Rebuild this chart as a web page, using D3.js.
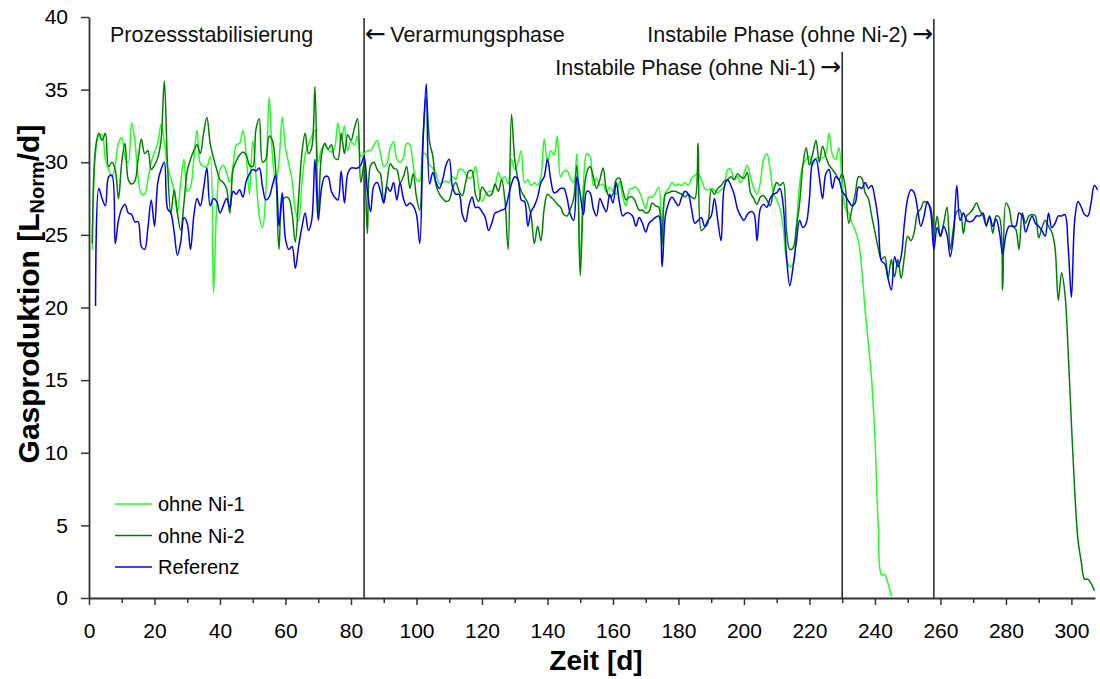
<!DOCTYPE html>
<html><head><meta charset="utf-8">
<script src="https://cdn.jsdelivr.net/npm/d3@7"></script>
<style>
html,body{margin:0;padding:0;background:#fff;}
svg{display:block;font-family:"Liberation Sans",Arial,sans-serif;}
</style></head>
<body><svg id="chart" width="1100" height="679"></svg>
<script>
// ---- data (daily values) ----
const ni1Start = 1;   // first day of "ohne Ni-1"
const ohneNi1 = [
24.0,30.6,31.8,31.9,30.2,29.5,29.0,29.8,31.3,31.7,
30.4,30.0,32.7,31.5,29.0,27.8,27.8,28.8,30.0,30.7,
31.3,32.6,31.4,29.6,28.9,28.0,26.5,28.6,30.2,28.0,
28.3,30.2,32.2,29.9,29.7,29.7,30.4,21.0,27.0,29.5,
29.8,29.3,28.6,29.8,31.2,31.3,32.2,30.5,27.8,31.5,
29.0,26.3,25.5,28.0,34.5,30.5,28.5,30.0,33.1,31.0,
29.9,28.8,26.7,26.0,28.5,30.5,31.2,31.8,32.2,30.0,
30.9,31.2,30.9,30.7,31.0,32.7,31.5,32.5,30.8,31.4,
31.2,31.8,30.4,30.6,30.8,30.8,31.2,31.5,30.6,29.7,
29.9,31.0,31.4,30.2,30.0,30.3,31.3,31.2,29.8,28.8,
28.7,30.6,30.5,29.8,29.6,29.2,28.5,28.6,28.7,28.6,
29.0,28.8,29.5,29.5,29.2,28.9,29.0,29.7,28.3,27.3,
27.7,28.0,28.0,28.4,29.3,28.8,29.0,28.5,30.2,29.5,
30.0,30.8,28.6,28.8,28.4,28.6,28.4,29.0,31.6,30.0,
30.8,30.5,31.8,29.0,29.4,29.4,28.9,28.6,30.6,23.0,
28.6,30.6,30.4,28.4,28.9,28.4,28.5,27.9,28.3,28.0,
27.8,28.7,27.6,27.0,28.1,28.2,28.3,28.0,27.4,26.8,
27.6,27.6,27.9,28.3,24.2,27.9,28.2,28.6,28.4,28.5,
28.4,28.6,28.4,28.9,29.1,29.2,28.8,28.2,28.1,28.2,
28.1,27.9,28.1,28.3,29.5,29.5,28.8,29.0,28.6,29.2,
29.8,29.0,28.2,27.8,28.6,30.2,30.6,29.5,27.9,27.4,
26.8,25.5,23.3,22.8,23.0,25.5,28.5,29.8,30.2,30.4,
29.8,30.3,30.3,30.3,30.6,32.0,30.5,30.2,31.0,28.5,
26.8,26.5,25.8,25.3,24.5,22.6,19.8,17.5,15.0,11.0,
5.0,1.6,1.6,1.0,0.1
];
const ni2Start = 1;   // first day of "ohne Ni-2"
const ohneNi2 = [
24.4,31.0,32.0,31.5,32.0,29.7,30.0,29.5,27.5,30.0,
31.3,28.8,28.5,28.7,30.2,31.6,30.6,30.8,29.5,29.8,
30.3,31.5,35.6,29.7,26.5,28.1,26.5,25.3,27.2,29.4,
30.2,30.8,31.2,30.6,32.0,33.1,31.3,30.3,29.5,28.8,
28.6,28.2,26.5,29.5,30.1,30.5,30.7,30.5,29.8,29.7,
32.3,33.0,30.0,30.2,31.8,31.5,29.5,24.0,27.3,27.6,
27.5,26.5,24.5,27.5,30.6,32.0,30.6,31.0,35.2,26.5,
30.5,31.3,30.9,31.2,30.3,30.2,32.0,30.6,31.9,31.5,
32.3,33.0,28.6,29.9,25.1,29.8,30.0,29.5,29.2,27.2,
28.6,29.9,29.6,29.5,28.6,29.0,29.7,28.2,29.2,27.6,
26.7,31.8,34.5,31.4,30.4,28.4,27.8,27.5,27.3,27.4,
28.2,28.6,28.0,27.7,28.6,29.4,29.4,27.8,27.3,28.3,
28.0,27.7,27.8,28.5,28.0,28.8,27.4,24.0,33.3,30.2,
28.8,28.0,27.6,27.2,26.3,24.4,25.6,24.6,26.8,27.8,
27.6,27.4,27.1,26.9,26.4,26.3,26.8,27.5,29.8,22.2,
27.5,29.3,29.7,29.0,28.2,28.8,29.6,28.1,27.6,27.8,
28.8,28.9,28.1,27.4,27.6,27.6,27.2,26.7,26.7,26.5,
26.6,27.2,27.0,26.9,24.4,27.8,27.9,28.0,28.0,27.9,
27.8,27.6,27.8,27.6,27.5,31.3,25.3,25.5,25.8,28.1,
27.8,28.2,28.4,28.7,28.8,29.0,28.8,29.2,29.0,28.9,
29.3,27.9,27.5,27.1,27.6,27.7,27.4,27.0,28.0,28.6,
28.4,28.6,25.3,24.0,24.1,25.5,27.2,29.8,31.0,29.8,
30.6,31.5,30.0,31.1,30.4,29.8,29.5,29.2,28.8,29.2,
28.2,25.8,26.8,27.8,29.0,28.9,27.9,27.5,26.3,25.2,
24.1,23.3,23.5,22.0,23.3,22.1,23.3,22.0,23.5,24.9,
24.6,25.2,26.5,26.8,27.3,27.2,26.9,24.9,26.3,24.9,
25.8,26.9,24.0,25.5,26.6,26.7,25.1,26.3,26.5,26.8,
27.2,26.7,26.3,25.7,26.2,25.1,26.3,26.2,21.2,27.2,
26.8,25.6,25.4,24.0,26.5,25.8,26.3,26.4,26.3,24.8,
25.5,26.0,25.6,25.2,24.1,20.5,22.4,21.0,17.0,12.0,
7.4,4.0,2.5,1.3,1.3,1.0,0.5
];
const refStart = 2;   // first day of "Referenz"
const referenz = [
20.1,28.2,27.5,27.0,29.0,29.1,24.4,26.0,26.8,
27.1,26.5,26.4,25.9,25.9,24.2,24.0,25.5,27.4,25.6,
28.6,29.5,30.0,26.8,26.5,25.2,23.6,24.5,26.2,25.8,
24.0,26.3,27.5,27.0,28.2,29.6,27.0,27.5,27.3,26.5,
27.0,27.5,26.9,28.0,27.8,28.1,27.6,28.7,29.2,29.5,
29.4,29.6,28.3,27.4,27.6,28.4,29.1,25.6,27.9,24.7,
24.0,24.2,22.7,24.2,25.5,26.5,25.3,26.0,30.2,26.0,
28.2,29.0,29.0,28.0,27.6,27.4,29.4,27.2,29.2,29.6,
29.6,29.6,29.8,30.4,28.1,26.6,28.4,28.6,28.0,27.2,
28.3,28.0,28.6,27.4,28.6,27.5,27.0,27.2,27.0,26.4,
24.4,31.3,35.4,28.5,29.3,28.6,28.2,28.8,29.8,30.2,
28.3,27.8,27.8,26.4,25.9,27.0,27.6,26.9,26.9,26.6,
26.2,25.3,25.8,26.5,26.6,26.7,26.8,27.6,28.5,29.0,
28.8,27.4,27.3,25.6,26.6,27.0,27.6,28.6,29.0,30.2,
28.8,27.9,28.0,28.2,28.2,27.5,26.4,26.0,29.0,27.8,
26.4,28.0,27.9,26.8,26.3,27.5,27.0,26.6,27.8,27.2,
28.6,27.2,26.3,26.5,26.5,26.3,25.6,26.2,25.8,25.2,
25.8,26.0,26.2,26.3,22.8,26.3,27.2,27.6,27.3,27.0,
27.6,28.0,27.8,26.8,25.8,26.0,26.2,25.6,26.0,26.3,
27.5,26.0,24.6,28.3,28.8,28.4,27.8,26.8,26.3,26.0,
26.4,26.6,26.5,24.6,26.8,27.1,26.9,27.5,27.8,27.9,
28.2,27.0,23.5,21.5,22.8,24.5,26.0,25.5,25.8,27.5,
30.0,30.2,29.0,27.5,29.2,29.5,28.2,29.0,28.8,28.0,
27.7,27.3,27.0,27.2,28.3,28.2,28.6,28.2,28.4,27.5,
26.0,23.2,23.0,22.0,21.2,23.5,22.8,23.5,25.8,27.5,
28.1,27.9,26.8,25.6,26.3,27.3,26.6,24.0,25.5,24.9,
25.6,25.0,23.5,25.0,28.4,26.0,26.5,26.0,25.9,26.0,
26.3,26.3,26.5,25.6,26.3,25.6,26.1,25.2,23.7,25.0,
25.6,25.6,25.6,26.5,26.3,25.2,25.8,26.3,25.8,25.6,
25.3,24.9,26.5,25.5,25.8,26.3,26.3,26.4,24.2,20.7,
26.0,27.3,26.9,26.4,26.3,27.2,28.4,28.1
];
const seriesNames = ["ohne Ni-1", "ohne Ni-2", "Referenz"];
const seriesColors = ["#22ff22", "#008000", "#0000ff"];
const phaseDays = [84, 230, 258];
const yTicks = [0,5,10,15,20,25,30,35,40];
const xTicks = d3.range(0, 301, 20);
const xMinor = d3.range(10, 301, 20);

// ---- chart ----
const svg = d3.select("#chart");
const x = d3.scaleLinear().domain([0, 307.2]).range([89, 1095]);
const y = d3.scaleLinear().domain([0, 40]).range([598, 17]);

const toPts = (arr, start) => arr.map((v, i) => [start + i, v]);
const series = [toPts(ohneNi1, ni1Start), toPts(ohneNi2, ni2Start), toPts(referenz, refStart)];

// phase lines
const phaseTop = [18, 52, 19];
svg.append("g").selectAll("line").data(phaseDays).join("line")
  .attr("x1", d => x(d)).attr("x2", d => x(d))
  .attr("y1", (d, i) => phaseTop[i]).attr("y2", y(0))
  .attr("stroke", "#222").attr("stroke-width", 1.5);

// series lines
const line = d3.line().x(d => x(d[0])).y(d => y(d[1])).curve(d3.curveCatmullRom.alpha(0.5));
svg.append("g").selectAll("path").data(series).join("path")
  .attr("d", line).attr("fill", "none")
  .attr("stroke", (d, i) => seriesColors[i]).attr("stroke-width", 1.5)
  .attr("stroke-linejoin", "round");

// axes
const yAxis = d3.axisLeft(y).tickValues(yTicks).tickSize(8).tickSizeOuter(0).tickPadding(13);
const gy = svg.append("g").attr("transform", `translate(${x(0)},0)`).call(yAxis);
const xAxis = d3.axisBottom(x).tickValues(xTicks).tickSize(7).tickSizeOuter(0).tickPadding(18);
const gx = svg.append("g").attr("transform", `translate(0,${y(0)})`).call(xAxis);
const xAxisMinor = d3.axisBottom(x).tickValues(xMinor).tickSize(5).tickSizeOuter(0).tickFormat("");
const gxm = svg.append("g").attr("transform", `translate(0,${y(0)})`).call(xAxisMinor);
gxm.select(".domain").remove();
[gy, gx, gxm].forEach(g => {
  g.selectAll(".domain").attr("stroke", "#333").attr("stroke-width", 1.8);
  g.selectAll(".tick line").attr("stroke", "#333").attr("stroke-width", 1.5);
  g.selectAll(".tick text").attr("fill", "#000").style("font-size", "21px")
    .style("font-family", '"Liberation Sans", Arial, sans-serif');
});

// axis titles
svg.append("text").attr("x", 596).attr("y", 670).attr("text-anchor", "middle")
  .style("font-size", "28px").style("font-weight", "bold").text("Zeit [d]");
const yl = svg.append("text").attr("transform", "translate(39,294) rotate(-90)")
  .attr("text-anchor", "middle").style("font-size", "30px").style("font-weight", "bold");
yl.append("tspan").text("Gasproduktion [L");
yl.append("tspan").attr("dy", 5).style("font-size", "20px").text("Norm");
yl.append("tspan").attr("dy", -5).text("/d]");

// phase annotations
const annFont = "21.5px";
const arrowFont = '"DejaVu Sans", sans-serif';
const g1 = svg.append("g").style("font-size", annFont).attr("fill", "#111");
g1.append("text").attr("x", 110).attr("y", 42).text("Prozessstabilisierung");
const t2 = g1.append("text").attr("x", 365).attr("y", 42);
t2.append("tspan").style("font-family", arrowFont).style("font-size", "25px").text("\u2190");
t2.append("tspan").text("\u2009Verarmungsphase");
const t3 = g1.append("text").attr("x", 933).attr("y", 42).attr("text-anchor", "end");
t3.append("tspan").text("Instabile Phase (ohne Ni-2)\u2009");
t3.append("tspan").style("font-family", arrowFont).style("font-size", "25px").text("\u2192");
const t4 = g1.append("text").attr("x", 841).attr("y", 75).attr("text-anchor", "end");
t4.append("tspan").text("Instabile Phase (ohne Ni-1)\u2009");
t4.append("tspan").style("font-family", arrowFont).style("font-size", "25px").text("\u2192");

// legend
const lg = svg.append("g").selectAll("g").data(seriesNames).join("g")
  .attr("transform", (d, i) => `translate(115,${504 + i * 31.5})`);
lg.append("line").attr("x1", 0).attr("x2", 37).attr("y1", 0).attr("y2", 0)
  .attr("stroke", (d, i) => seriesColors[i]).attr("stroke-width", 1.5);
lg.append("text").attr("x", 43).attr("y", 7).style("font-size", "20px").text(d => d);
</script></body></html>
